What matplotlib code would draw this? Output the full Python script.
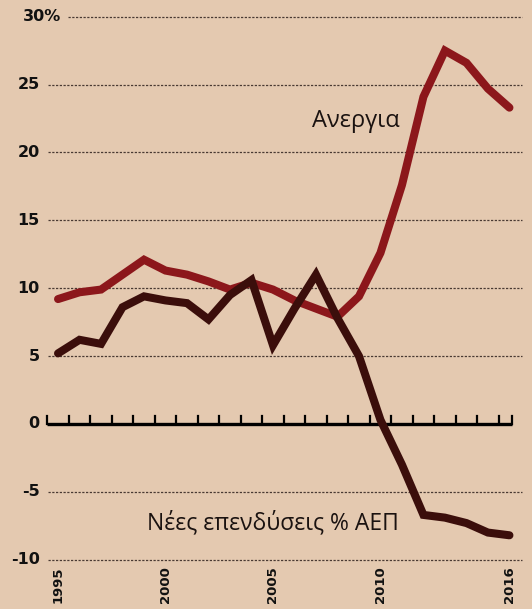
import numpy as np
import matplotlib
matplotlib.use("Agg")
import matplotlib.pyplot as plt

years = list(range(1995, 2017))
# unemployment %
anergia = [9.2, 9.7, 9.9, 11.0, 12.1, 11.3, 11.0, 10.5, 9.9, 10.4, 9.9,
           9.1, 8.5, 7.9, 9.4, 12.6, 17.6, 24.1, 27.5, 26.6, 24.7, 23.3]
# new investment % of GDP
ependyseis = [5.2, 6.2, 5.9, 8.6, 9.4, 9.1, 8.9, 7.7, 9.5, 10.6, 5.8,
              8.5, 11.0, 7.8, 5.0, 0.3, -3.0, -6.7, -6.9, -7.3, -8.0, -8.2]

y_ticks = [30, 25, 20, 15, 10, 5, 0, -5, -10]
y_labels = ["30%", "25", "20", "15", "10", "5", "0", "-5", "-10"]
x_ticks = [1995, 2000, 2005, 2010, 2016]

bg = "#e4c9b0"
red = "#8c171b"
dark = "#3b0e0b"

fig = plt.figure(figsize=(5.32, 6.09), dpi=100, facecolor=bg)
ax = fig.add_axes([0, 0, 1, 1])
ax.set_facecolor(bg)
ax.axis("off")
ax.set_xlim(1992.30, 2017.05)
ax.set_ylim(-13.63, 31.23)

# dotted grid
for v in y_ticks:
    if v == 0:
        continue
    x0 = 1995.45 if v == 30 else 1994.53
    ax.plot([x0, 2016.6], [v, v], color="#4a3a33", lw=0.9,
            dashes=(1.8, 1.2), zorder=1)

# zero axis with year ticks
ax.plot([1994.5, 2016.12], [0, 0], color="black", lw=2.4,
        solid_capstyle="butt", zorder=2)
for t in list(np.arange(1994.5, 2016.0, 1.0)) + [2016.12]:
    ax.plot([t, t], [0, 0.6], color="black", lw=1.6, zorder=2)

# y labels
for v, lab in zip(y_ticks, y_labels):
    if v == 30:
        ax.text(1993.38, v, lab, ha="left", va="center", fontsize=11.5,
                fontweight="bold", family="DejaVu Sans", color="#111111")
    else:
        ax.text(1994.15, v, lab, ha="right", va="center", fontsize=11.5,
                fontweight="bold", family="DejaVu Sans", color="#111111")

# x labels
for yr in x_ticks:
    ax.text(yr, -10.5, str(yr), rotation=90, ha="center", va="top",
            fontsize=9.5, fontweight="bold", family="DejaVu Sans", color="#111111")

ax.plot(years, anergia, color=red, lw=5.8, solid_capstyle="round",
        solid_joinstyle="miter", zorder=3)
ax.plot(years, ependyseis, color=dark, lw=5.8, solid_capstyle="round",
        solid_joinstyle="miter", zorder=4)

ax.text(2008.86, 22.3, "Ανεργια", ha="center", va="center", fontsize=17,
        family="Open Sans", color="#1a1210")
ax.text(2005.0, -7.3, "Νέες επενδύσεις % ΑΕΠ", ha="center", va="center",
        fontsize=16.5, family="Open Sans", color="#1a1210")

fig.savefig("out.png", dpi=100, facecolor=bg)
